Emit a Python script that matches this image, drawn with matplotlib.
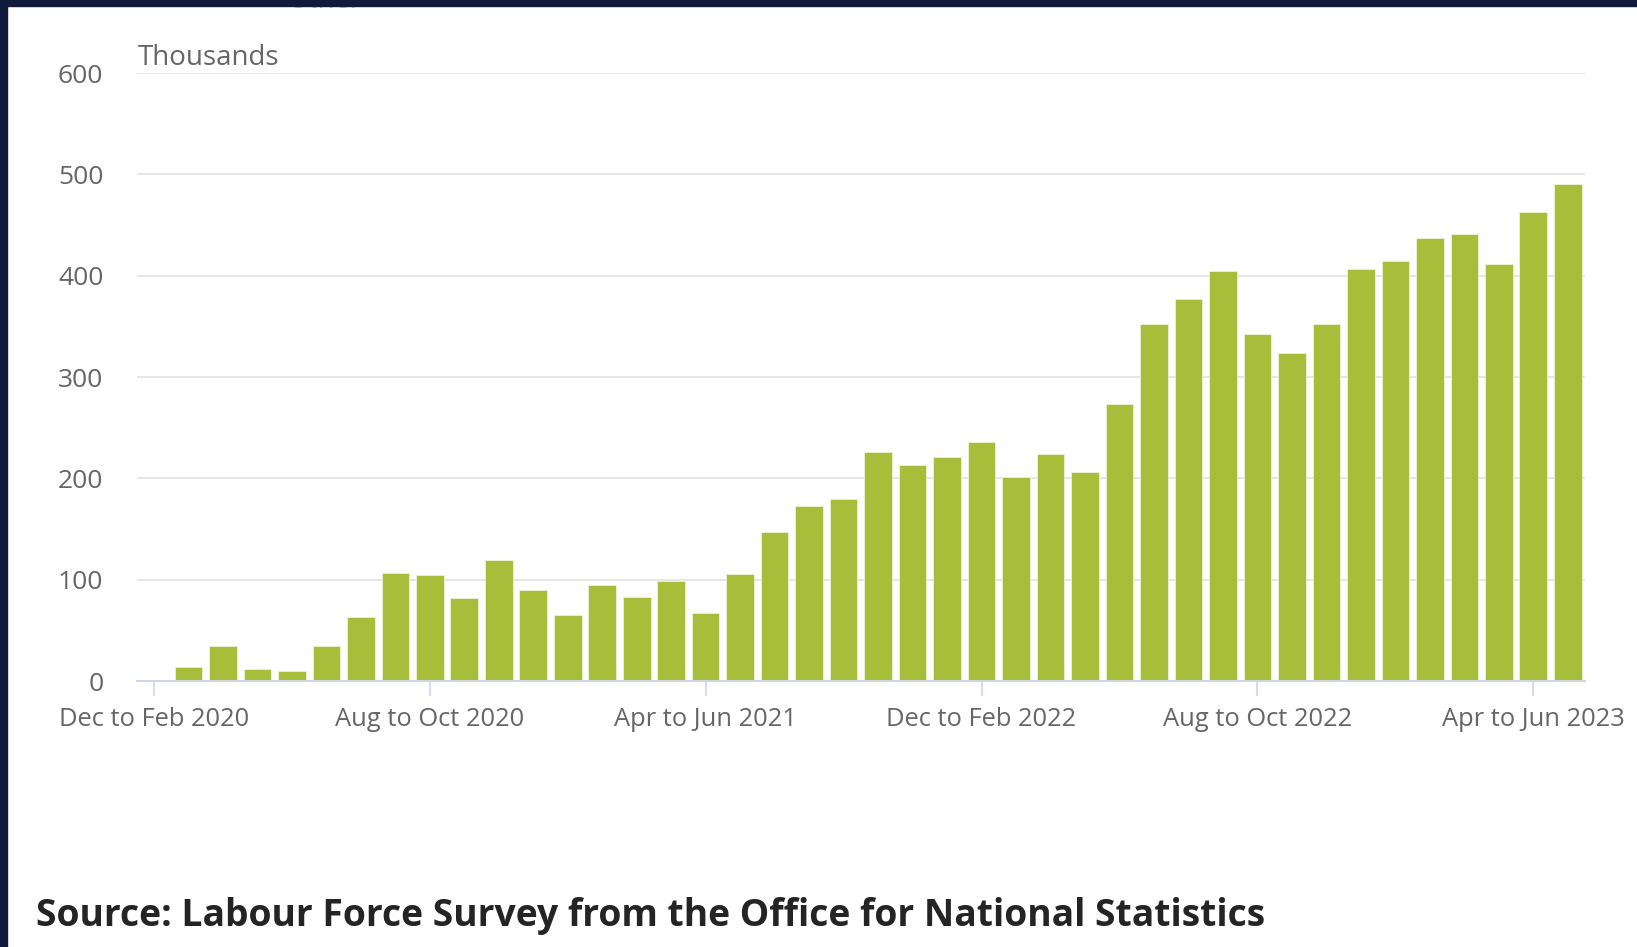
import matplotlib
matplotlib.use("Agg")
import matplotlib.pyplot as plt
from matplotlib.patches import Rectangle, Circle

plt.rcParams["font.family"] = ["Open Sans", "DejaVu Sans"]

# Rolling three-month periods, Dec to Feb 2020 through May to Jul 2023
periods = [
    "Dec to Feb 2020", "Jan to Mar 2020", "Feb to Apr 2020", "Mar to May 2020",
    "Apr to Jun 2020", "May to Jul 2020", "Jun to Aug 2020", "Jul to Sep 2020",
    "Aug to Oct 2020", "Sep to Nov 2020", "Oct to Dec 2020", "Nov to Jan 2021",
    "Dec to Feb 2021", "Jan to Mar 2021", "Feb to Apr 2021", "Mar to May 2021",
    "Apr to Jun 2021", "May to Jul 2021", "Jun to Aug 2021", "Jul to Sep 2021",
    "Aug to Oct 2021", "Sep to Nov 2021", "Oct to Dec 2021", "Nov to Jan 2022",
    "Dec to Feb 2022", "Jan to Mar 2022", "Feb to Apr 2022", "Mar to May 2022",
    "Apr to Jun 2022", "May to Jul 2022", "Jun to Aug 2022", "Jul to Sep 2022",
    "Aug to Oct 2022", "Sep to Nov 2022", "Oct to Dec 2022", "Nov to Jan 2023",
    "Dec to Feb 2023", "Jan to Mar 2023", "Feb to Apr 2023", "Mar to May 2023",
    "Apr to Jun 2023", "May to Jul 2023",
]

# Change since Dec to Feb 2020, thousands
values = [
    0, 14, 35, 12, 10, 35, 63, 107, 105, 82, 119, 90, 65, 95, 83, 99, 67,
    106, 147, 173, 180, 226, 213, 221, 236, 201, 224, 206, 273, 352, 377,
    405, 342, 324, 352, 407, 414, 437, 441, 412, 463, 490,
]

y_ticks = [0, 100, 200, 300, 400, 500, 600]
label_every = 8

W, H = 1637, 947
fig = plt.figure(figsize=(W / 100, H / 100), dpi=100, facecolor="white")

left, right, bottom, top = 136.7, 1585, 681, 73
ax = fig.add_axes([left / W, (H - bottom) / H, (right - left) / W, (bottom - top) / H])
ax.set_facecolor("white")

x = list(range(len(values)))
ax.bar(x, values, width=0.8, color="#a8bd3a", edgecolor="#eef3d4",
       linewidth=0.6, zorder=3)

ax.set_xlim(-0.5, len(values) - 0.5)
ax.set_ylim(0, 600)

ax.set_yticks(y_ticks)
ax.set_yticklabels([str(v) for v in y_ticks])
ax.grid(axis="y", color="#e6e6e6", linewidth=1.4, zorder=0)
ax.set_axisbelow(True)

tick_pos = x[::label_every]
ax.set_xticks(tick_pos)
ax.set_xticklabels([periods[i] for i in tick_pos])

for s in ["top", "right", "left"]:
    ax.spines[s].set_visible(False)
ax.spines["bottom"].set_color("#ccd6eb")
ax.spines["bottom"].set_linewidth(1.5)
ax.spines["bottom"].set_zorder(4)

ax.tick_params(axis="x", length=11, width=1.2, color="#ccd6eb",
               labelsize=18.4, labelcolor="#666666", pad=8)
ax.tick_params(axis="y", length=0, labelsize=19, labelcolor="#666666", pad=24)

fig.text(138 / W, 1 - 65 / H, "Thousands", fontsize=20, color="#666666",
         va="baseline", ha="left")

fig.text(36 / W, 1 - 916 / H,
         "Source: Labour Force Survey from the Office for National Statistics",
         fontsize=26.8, fontweight="bold", color="#242424", va="center", ha="left")

# Legend entry partly hidden under the top frame
fig.patches.append(Circle((208 / W, 1 - 0.5 / H), 9 / W, transform=fig.transFigure,
                          color="#c8c8c8", zorder=1))
fig.text(287 / W, 1 - 7.5 / H, "Other", fontsize=19.5, color="#c0c0c0",
         va="baseline", ha="left", zorder=1)

# Dark frame along the top and left edges
navy = "#121a3b"
fig.patches.append(Rectangle((0, 1 - 6 / H), 1, 6 / H, transform=fig.transFigure,
                             color=navy, zorder=20))
fig.patches.append(Rectangle((0, 0), 7 / W, 1, transform=fig.transFigure,
                             color=navy, zorder=20))

fig.savefig("out.png", dpi=100, facecolor="white")
